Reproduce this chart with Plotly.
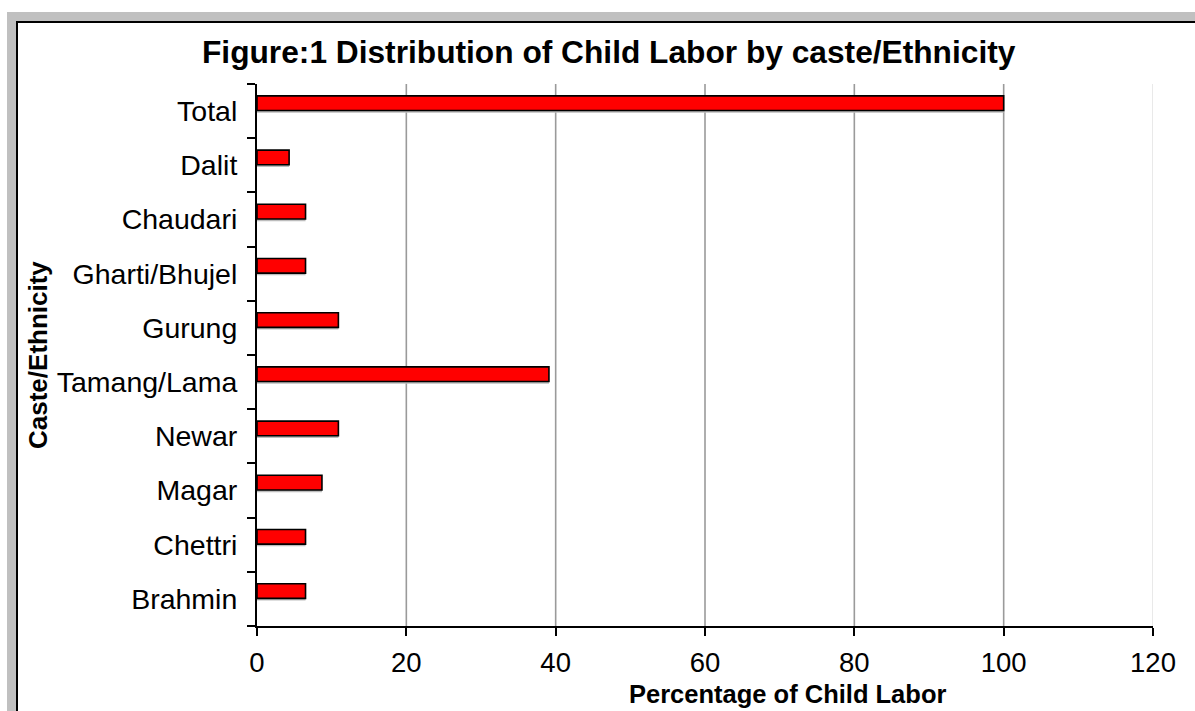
import plotly.graph_objects as go

# Data: share of child labour by caste / ethnic group (percent)
categories = ["Brahmin", "Chettri", "Magar", "Newar", "Tamang/Lama",
              "Gurung", "Gharti/Bhujel", "Chaudari", "Dalit", "Total"]
percentages = [6.5, 6.5, 8.7, 10.9, 39.1, 10.9, 6.5, 6.5, 4.3, 100]
x_ticks = [0, 20, 40, 60, 80, 100, 120]
inner_grid = [20, 40, 60, 80, 100]

W, H = 1195, 711
L, R, T, B = 257, 42, 84, 85
PW, PH = W - L - R, H - T - B

FONT = "Liberation Sans, Arial, sans-serif"


def px_x(px):
    return (px - L) / PW


def px_y(py):
    return (H - B - py) / PH


fig = go.Figure()

# soft drop shadow behind each bar
fig.add_trace(go.Bar(
    x=percentages, y=categories, orientation="h",
    width=0.27, offset=-0.03,
    marker=dict(color="#bdbdbd", line=dict(width=0)),
    hoverinfo="skip", showlegend=False,
))
fig.add_trace(go.Bar(
    x=percentages, y=categories, orientation="h",
    width=0.27, offset=0.01,
    marker=dict(color="#ff0000", line=dict(color="#000000", width=1.6)),
    showlegend=False,
))

frame_shapes = [
    # grey outer frame
    dict(type="rect", xref="paper", yref="paper", layer="below",
         x0=px_x(7), x1=px_x(1210), y0=px_y(730), y1=px_y(12),
         fillcolor="#c0c0c0", line=dict(width=0)),
    # white chart panel with black border
    dict(type="rect", xref="paper", yref="paper", layer="below",
         x0=px_x(17), x1=px_x(1220), y0=px_y(740), y1=px_y(22),
         fillcolor="#ffffff", line=dict(color="#000000", width=2)),
]
# vertical gridlines: grey inside, a faint one at the right edge
grid_shapes = [
    dict(type="line", xref="x", yref="paper", layer="below",
         x0=v, x1=v, y0=0, y1=1, line=dict(color="#9a9a9a", width=1.6))
    for v in inner_grid
] + [
    dict(type="line", xref="x", yref="paper", layer="below",
         x0=x_ticks[-1], x1=x_ticks[-1], y0=0, y1=1,
         line=dict(color="#e2e2e2", width=1.5))
]

axis_font_y = dict(family=FONT, size=28.5, color="#000000")
axis_font_x = dict(family=FONT, size=27.5, color="#000000")

fig.update_layout(
    width=W, height=H,
    margin=dict(l=L, r=R, t=T, b=B),
    paper_bgcolor="#ffffff",
    plot_bgcolor="rgba(0,0,0,0)",
    barmode="overlay",
    xaxis=dict(
        range=[0, 120], tickvals=x_ticks, ticktext=[str(v) for v in x_ticks],
        showgrid=False, zeroline=False,
        showline=True, linecolor="#000000", linewidth=2,
        ticks="outside", ticklen=8, tickwidth=2, tickcolor="#000000",
        tickfont=axis_font_x, ticklabelstandoff=3,
    ),
    yaxis=dict(
        type="category", categoryorder="array", categoryarray=categories,
        tickson="boundaries",
        showgrid=False, zeroline=False,
        showline=True, linecolor="#000000", linewidth=2,
        ticks="outside", ticklen=8, tickwidth=2, tickcolor="#000000",
        tickfont=axis_font_y, ticklabelstandoff=12,
    ),
    shapes=frame_shapes + grid_shapes,
    annotations=[
        dict(text="<b>Figure:1 Distribution of Child Labor by caste/Ethnicity</b>",
             xref="paper", yref="paper", x=px_x(609), y=px_y(52),
             xanchor="center", yanchor="middle", showarrow=False,
             font=dict(family=FONT, size=31.7, color="#000000")),
        dict(text="<b>Caste/Ethnicity</b>", textangle=-90,
             xref="paper", yref="paper", x=px_x(38), y=px_y(355),
             xanchor="center", yanchor="middle", showarrow=False,
             font=dict(family=FONT, size=26, color="#000000")),
        dict(text="<b>Percentage of Child Labor</b>",
             xref="paper", yref="paper", x=px_x(787), y=px_y(694),
             xanchor="center", yanchor="middle", showarrow=False,
             font=dict(family=FONT, size=25.5, color="#000000")),
    ],
)

fig.write_html("out.html")
